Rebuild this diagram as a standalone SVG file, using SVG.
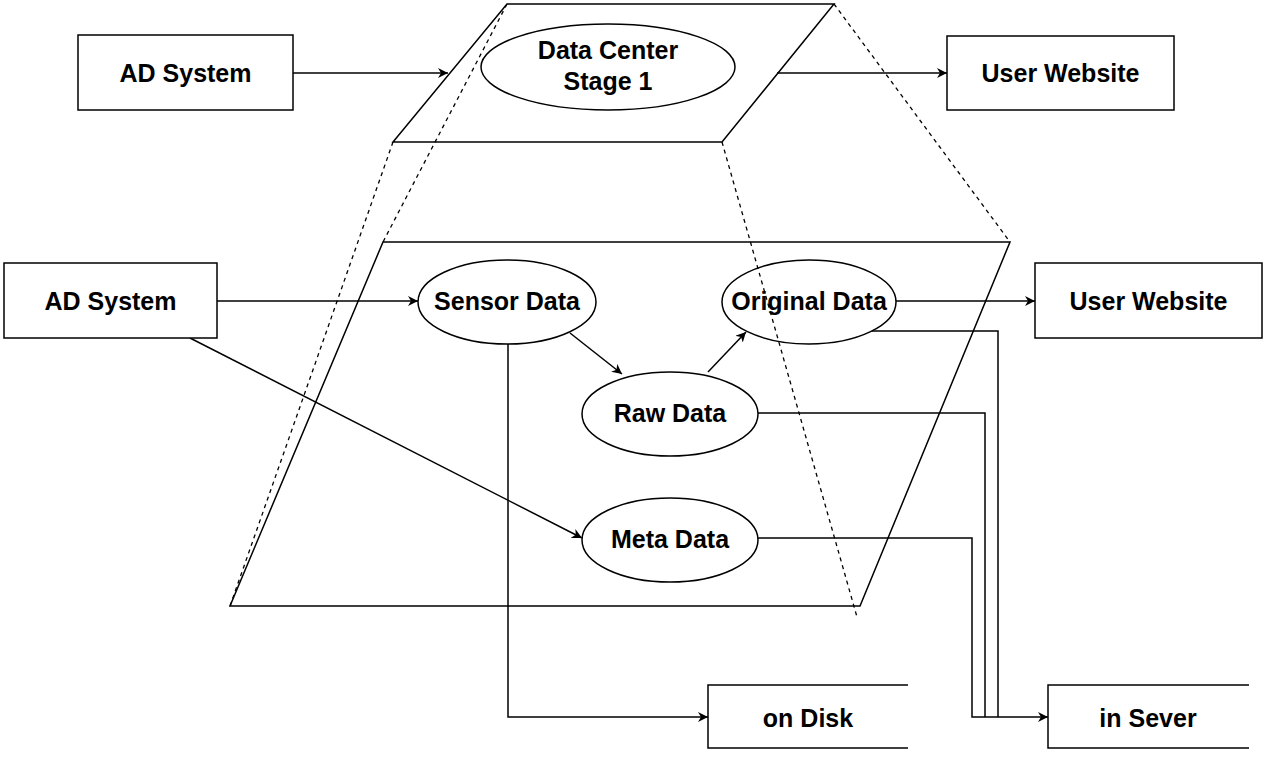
<svg xmlns="http://www.w3.org/2000/svg" width="1280" height="766" viewBox="0 0 1280 766">
<defs>
<marker id="arr" viewBox="0 0 10 10" refX="10" refY="5" markerWidth="10" markerHeight="10" markerUnits="userSpaceOnUse" orient="auto">
<path d="M0,0 L10,5 L0,10 L3,5 Z" fill="#000"/>
</marker>
</defs>
<style>
.s{fill:#fff;stroke:#000;stroke-width:1.5}
.o{fill:none;stroke:#000;stroke-width:1.5}
.d{fill:none;stroke:#000;stroke-width:1.3;stroke-dasharray:4 4}
.c{fill:none;stroke:#000;stroke-width:1.5}
.a{marker-end:url(#arr)}
text{font-family:"Liberation Sans",Arial,sans-serif;font-weight:bold;font-size:25px;text-anchor:middle;fill:#000}
</style>
<rect width="1280" height="766" fill="#fff"/>
<g id="stage2">
<polygon class="s" points="383,242 1010,242 860,606 230,606"/>
</g>
<g id="stage1">
<polygon class="s" points="507,4 834,4 722,142 393,142"/>
<ellipse class="s" cx="608" cy="67" rx="127" ry="43"/>
<text x="608" y="59">Data Center</text>
<text x="608" y="90">Stage 1</text>
</g>
<g id="connectors">
<line class="c a" x1="293" y1="73" x2="448" y2="73"/>
<line class="c a" x1="777" y1="73" x2="947" y2="73"/>
<line class="c a" x1="217" y1="301" x2="418" y2="301"/>
<line class="c a" x1="190" y1="338" x2="582" y2="538"/>
<line class="c a" x1="570" y1="333" x2="622" y2="374"/>
<line class="c a" x1="708" y1="372" x2="746" y2="332"/>
<line class="c a" x1="896" y1="301" x2="1035" y2="301"/>
<polyline class="c a" points="508,344 508,717 708,717"/>
<polyline class="c" points="870,331 998,331 998,717"/>
<polyline class="c" points="758,413 985,413 985,717"/>
<polyline class="c a" points="758,538 972,538 972,717 1048,717"/>
</g>
<g id="ad1">
<rect class="s" x="78" y="35" width="215" height="75"/>
<text x="185.5" y="82">AD System</text>
</g>
<g id="uw1">
<rect class="s" x="947" y="36" width="227" height="74"/>
<text x="1060.5" y="82">User Website</text>
</g>
<g id="ad2">
<rect class="s" x="4" y="263" width="213" height="75"/>
<text x="110.5" y="310">AD System</text>
</g>
<g id="uw2">
<rect class="s" x="1035" y="263" width="227" height="75"/>
<text x="1148.5" y="310">User Website</text>
</g>
<g id="sensor">
<ellipse class="s" cx="507" cy="302" rx="89" ry="42"/>
<text x="507" y="310">Sensor Data</text>
</g>
<g id="original">
<ellipse class="s" cx="809" cy="302" rx="87" ry="42"/>
<text x="809" y="310">Original Data</text>
</g>
<g id="raw">
<ellipse class="s" cx="670" cy="414" rx="88" ry="42"/>
<text x="670" y="422">Raw Data</text>
</g>
<g id="meta">
<ellipse class="s" cx="670" cy="540" rx="88" ry="42"/>
<text x="670" y="548">Meta Data</text>
</g>
<g id="disk">
<polyline class="o" points="908,685 708,685 708,748 908,748"/>
<text x="808" y="727">on Disk</text>
</g>
<g id="sever">
<polyline class="o" points="1249,685 1048,685 1048,748 1249,748"/>
<text x="1148" y="727">in Sever</text>
</g>
<g id="projection">
<line class="d" x1="507" y1="4" x2="383" y2="242"/>
<line class="d" x1="834" y1="4" x2="1010" y2="242"/>
<line class="d" x1="393" y1="142" x2="230" y2="606"/>
<line class="d" x1="722" y1="142" x2="857" y2="617"/>
</g>
</svg>
